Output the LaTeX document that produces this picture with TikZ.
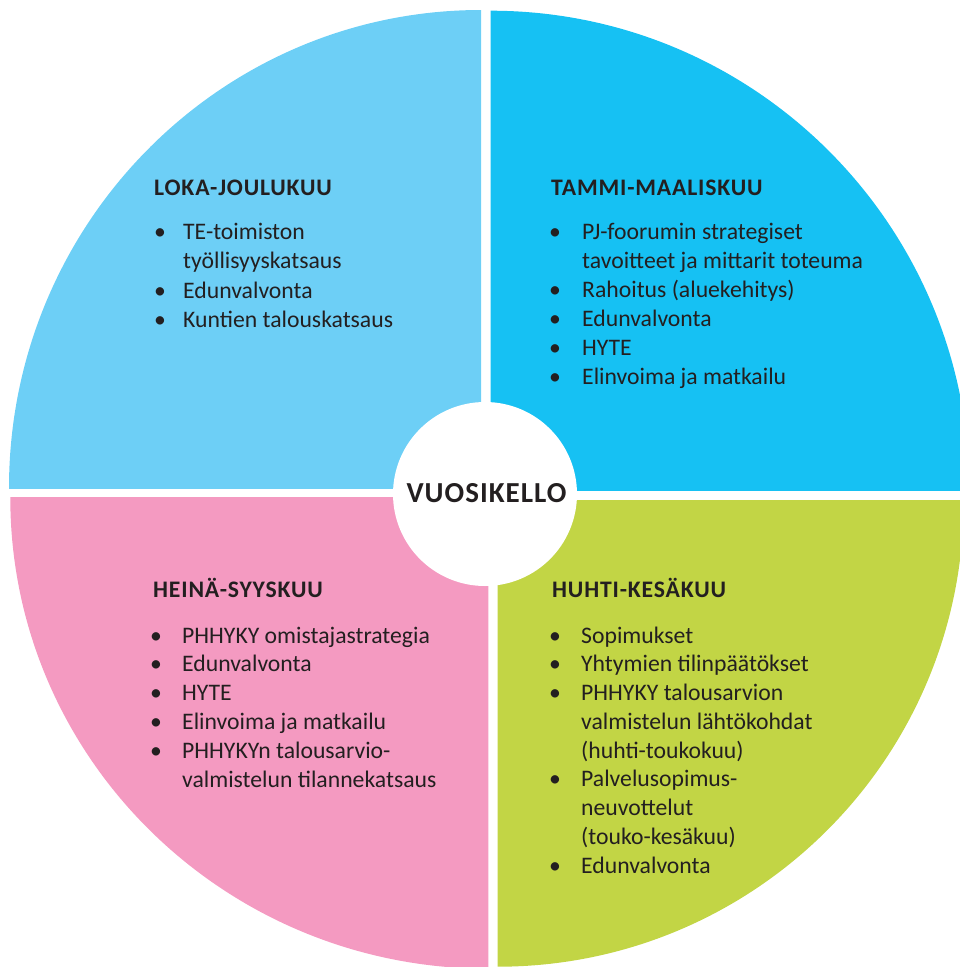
\documentclass[tikz,border=0pt]{standalone}
\usepackage{fontspec}
\setmainfont{Carlito}
\newfontfamily\headfont[LetterSpace=3.5]{Carlito}
\definecolor{qtl}{HTML}{6DCFF6}
\definecolor{qtr}{HTML}{16C1F3}
\definecolor{qbl}{HTML}{F49AC1}
\definecolor{qbr}{HTML}{C2D545}
\definecolor{ink}{HTML}{231F20}
\tikzset{
  line/.style={anchor=base west, inner sep=0pt, text=ink, font=\fontsize{23.7}{28}\selectfont},
  bul/.style={anchor=base, inner sep=0pt, text=ink, font=\fontsize{23.7}{28}\selectfont},
  head/.style={anchor=base west, inner sep=0pt, text=ink, font=\fontsize{23.7}{28}\headfont\bfseries},
}
\begin{document}
\begin{tikzpicture}[x=1pt,y=-1pt]
\useasboundingbox (0,0) rectangle (960,967);
\clip (0,0) rectangle (960,967);
% quadrants
\begin{scope}
\clip (0,0) rectangle (481,488);
\fill[qtl] (481,488) ellipse[x radius=472pt, y radius=478pt];
\end{scope}
\begin{scope}
\clip (490.5,0) rectangle (960,490.7);
\fill[qtr] (490.5,490.7) ellipse[x radius=479pt, y radius=480pt];
\end{scope}
\begin{scope}
\clip (0,497.7) rectangle (488.3,967);
\fill[qbl] (488.3,497.7) ellipse[x radius=478pt, y radius=471pt];
\end{scope}
\begin{scope}
\clip (497.7,500.7) rectangle (960,967);
\fill[qbr] (497.7,500.7) circle[radius=466pt];
\end{scope}
% centre
\fill[white] (485,494) circle[radius=92pt];
\node[inner sep=0pt, text=ink, font=\fontsize{29}{34}\headfont\bfseries] (centre) at (486.5,493.5) {VUOSIKELLO};
% top left
\node[head] (tlh) at (154,195) {LOKA-JOULUKUU};
\foreach [count=\i] \t/\b in {TE-toimiston/1, työllisyyskatsaus/0, Edunvalvonta/1, Kuntien talouskatsaus/1}{
  \pgfmathsetmacro\yy{239+(\i-1)*29.5}
  \node[line] (tl\i) at (183,\yy) {\t};
  \ifnum\b=1 \node[bul] (tlb\i) at (160,\yy) {\textbullet}; \fi
}
% top right
\node[head] (trh) at (551,195) {TAMMI-MAALISKUU};
\foreach [count=\i] \t/\b in {PJ-foorumin strategiset/1, tavoitteet ja mittarit toteuma/0, Rahoitus (aluekehitys)/1, Edunvalvonta/1, HYTE/1, Elinvoima ja matkailu/1}{
  \pgfmathsetmacro\yy{239+(\i-1)*29.1}
  \node[line] (tr\i) at (582,\yy) {\t};
  \ifnum\b=1 \node[bul] (trb\i) at (555,\yy) {\textbullet}; \fi
}
% bottom left
\node[head] (blh) at (153,597.5) {HEINÄ-SYYSKUU};
\foreach [count=\i] \t/\b in {PHHYKY omistajastrategia/1, Edunvalvonta/1, HYTE/1, Elinvoima ja matkailu/1, PHHYKYn talousarvio-/1, valmistelun tilannekatsaus/0}{
  \pgfmathsetmacro\yy{643+(\i-1)*28.8}
  \node[line] (bl\i) at (182,\yy) {\t};
  \ifnum\b=1 \node[bul] (blb\i) at (156,\yy) {\textbullet}; \fi
}
% bottom right
\node[head] (brh) at (552,597.5) {HUHTI-KESÄKUU};
\foreach [count=\i] \t/\b in {Sopimukset/1, Yhtymien tilinpäätökset/1, PHHYKY talousarvion/1, valmistelun lähtökohdat/0, (huhti-toukokuu)/0, Palvelusopimus-/1, neuvottelut/0, (touko-kesäkuu)/0, Edunvalvonta/1}{
  \pgfmathsetmacro\yy{643+(\i-1)*28.75}
  \node[line] (br\i) at (581,\yy) {\t};
  \ifnum\b=1 \node[bul] (brb\i) at (555,\yy) {\textbullet}; \fi
}
\end{tikzpicture}
\end{document}
